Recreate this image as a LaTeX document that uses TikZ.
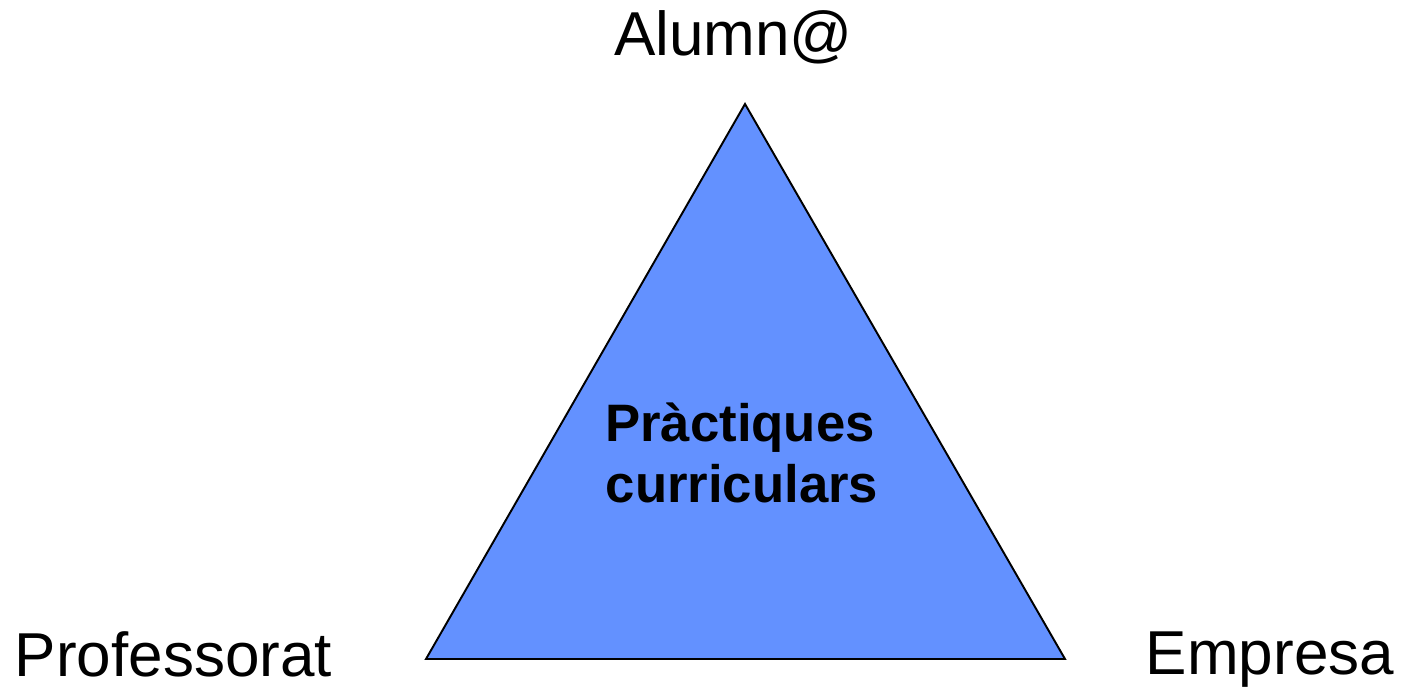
\documentclass[tikz,border=0pt]{standalone}
\usepackage{fontspec}
\setmainfont{Liberation Sans}
\definecolor{tri}{RGB}{99,145,255}
\begin{document}
\begin{tikzpicture}[x=0.02cm,y=-0.02cm,
  corner/.style={inner sep=0pt,anchor=base,font=\fontsize{35.3}{40}\selectfont},
  center/.style={inner sep=0pt,anchor=base,font=\fontsize{30}{36}\selectfont\bfseries}]
\useasboundingbox (0,0) rectangle (1403,688);
\coordinate (A) at (745,104);
\coordinate (B) at (426,659);
\coordinate (C) at (1065,659);
\filldraw[fill=tri,draw=black,line width=1.1pt,line join=miter] (A) -- (B) -- (C) -- cycle;
\node[corner] (alumn) at (733.5,56) {Alumn@};
\node[corner] (prof) at (173.5,677) {Professorat};
\node[corner] (emp) at (1270,675) {Empresa};
\node[center] (p1) at (740,442) {Pràctiques};
\node[center] (p2) at (742,503) {curriculars};
\end{tikzpicture}
\end{document}
